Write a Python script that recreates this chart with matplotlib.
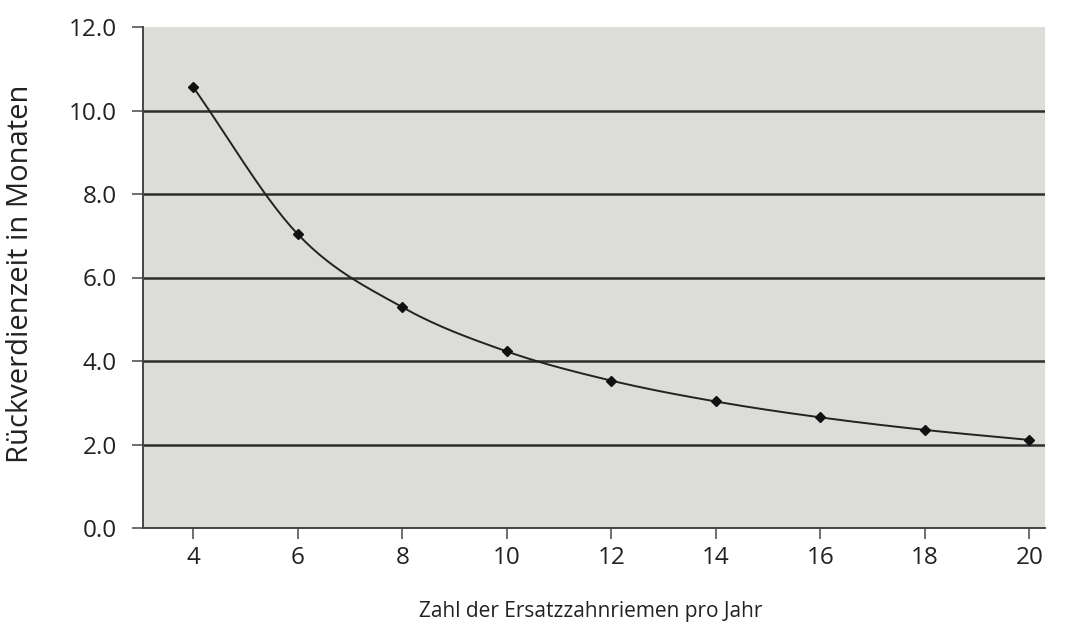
import matplotlib
matplotlib.use("Agg")
import matplotlib.pyplot as plt
import numpy as np

plt.rcParams["font.family"] = ["Open Sans", "DejaVu Sans"]

# Data
belts_per_year = [4, 6, 8, 10, 12, 14, 16, 18, 20]
payback_months = [10.56, 7.04, 5.29, 4.23, 3.53, 3.03, 2.65, 2.35, 2.11]
y_ticks = [0, 2, 4, 6, 8, 10, 12]
x_ticks = [4, 6, 8, 10, 12, 14, 16, 18, 20]


def smooth_path(x, y, steps=30):
    # Catmull-Rom style smoothing, like a spreadsheet "smoothed line"
    x = np.asarray(x, float)
    y = np.asarray(y, float)
    px = np.concatenate([[2 * x[0] - x[1]], x, [2 * x[-1] - x[-2]]])
    py = np.concatenate([[2 * y[0] - y[1]], y, [2 * y[-1] - y[-2]]])
    xs, ys = [], []
    t = np.linspace(0, 1, steps)
    for i in range(1, len(px) - 2):
        c1x = px[i] + (px[i + 1] - px[i - 1]) / 6
        c1y = py[i] + (py[i + 1] - py[i - 1]) / 6
        c2x = px[i + 1] - (px[i + 2] - px[i]) / 6
        c2y = py[i + 1] - (py[i + 2] - py[i]) / 6
        bx = ((1 - t) ** 3 * px[i] + 3 * (1 - t) ** 2 * t * c1x
              + 3 * (1 - t) * t ** 2 * c2x + t ** 3 * px[i + 1])
        by = ((1 - t) ** 3 * py[i] + 3 * (1 - t) ** 2 * t * c1y
              + 3 * (1 - t) * t ** 2 * c2y + t ** 3 * py[i + 1])
        xs.extend(bx)
        ys.extend(by)
    return xs, ys


fig = plt.figure(figsize=(10.68, 6.24), dpi=100)
ax = fig.add_axes([143 / 1068, 1 - 528 / 624, (1045 - 143) / 1068, (528 - 27) / 624])
ax.set_facecolor("#dcdcd8")

# horizontal grid lines
for v in y_ticks[1:-1]:
    ax.axhline(v, color="#2e2e2e", lw=1.8, zorder=1)

sx, sy = smooth_path(belts_per_year, payback_months)
ax.plot(sx, sy, color="#222222", lw=1.4, zorder=3)
ax.plot(belts_per_year, payback_months, linestyle="none", marker="D",
        markersize=5.5, color="#111111", zorder=4)

ax.set_xlim(3.04, 20.3)
ax.set_ylim(0, 12)
ax.set_xticks(x_ticks)
ax.set_yticks(y_ticks)
ax.set_yticklabels([f"{v:.1f}" for v in y_ticks])

for side in ["top", "right"]:
    ax.spines[side].set_visible(False)
ax.spines["left"].set_color("#444444")
ax.spines["bottom"].set_color("#444444")
ax.spines["left"].set_linewidth(1.4)
ax.spines["bottom"].set_linewidth(1.4)

ax.tick_params(axis="x", length=8, width=1.2, color="#555555", labelsize=17.5,
               pad=5, labelcolor="#222222")
ax.tick_params(axis="y", length=8, width=1.2, color="#555555", labelsize=17.5,
               pad=11, labelcolor="#222222")

fig.text(591 / 1068, 1 - 612 / 624, "Zahl der Ersatzzahnriemen pro Jahr",
         ha="center", va="center", fontsize=15, color="#222222")
fig.text(21 / 1068, 1 - 274 / 624, "Rückverdienzeit in Monaten",
         ha="center", va="center", rotation=90, fontsize=21, color="#222222")

fig.savefig("out.png", dpi=100)
plt.close(fig)
